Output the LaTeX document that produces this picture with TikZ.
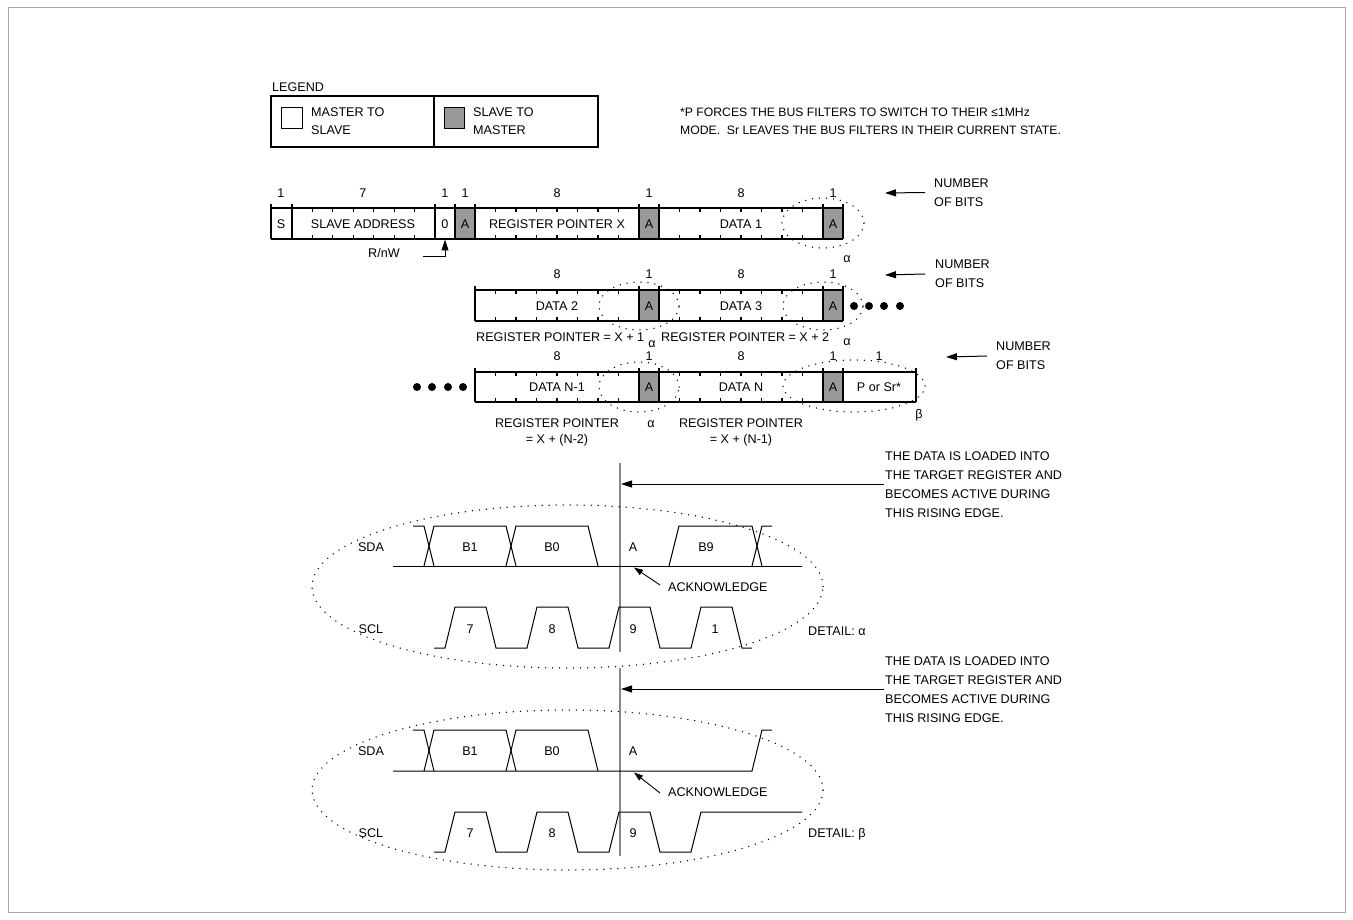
\documentclass[tikz,border=0pt]{standalone}
\usepackage{fontspec}
\setmainfont{Liberation Sans}
\usetikzlibrary{arrows.meta}
\definecolor{ackgray}{RGB}{153,153,153}
\definecolor{vgray}{RGB}{135,135,135}
\definecolor{framegray}{RGB}{170,170,170}
\newcommand\fs{\fontsize{12.6}{18}\selectfont}
\newcommand\fsn{\fontsize{12.2}{18}\selectfont}
\newcommand\fsb{\fontsize{12.6}{19}\selectfont}
\begin{document}
\begin{tikzpicture}[x=1pt,y=-1pt,
  lbl/.style={inner sep=0pt,font=\fs,anchor=base},
  lblw/.style={inner sep=0pt,font=\fs,anchor=base west},
  blockw/.style={inner sep=0pt,font=\fsb,align=left,anchor=west},
  frame/.style={line width=1.1pt},
  tick/.style={line width=1.1pt},
  tri/.style={-{Triangle[length=11pt,width=7pt]}, line width=1pt},
  smalltri/.style={-{Triangle[length=9pt,width=6pt]}, line width=0.9pt},
  ring/.style={line width=1.5pt, dash pattern=on 0pt off 7pt, line cap=round},
  wave/.style={line width=1pt},
  marker/.style={draw=vgray, line width=1.5pt},
  bigdot/.style={circle, fill=black, inner sep=0pt, minimum size=8pt},
]
\useasboundingbox (0,0) rectangle (1353,920);
\draw[framegray, line width=1pt] (8,8) rectangle (1345,912);

% ---------------- legend ----------------
\node[lblw] (legend) at (272,92) {LEGEND};
\draw[frame] (271,96) rectangle (598,147);
\draw[frame] (434,96) -- (434,147);
\draw[line width=0.8pt] (281,107) rectangle (302,128);
\node[lblw] (ms1) at (311,116.5) {MASTER TO};
\node[lblw] (ms2) at (311,134.5) {SLAVE};
\draw[line width=0.8pt, fill=ackgray] (444,107) rectangle (464,128);
\node[lblw] (sm1) at (473,116.5) {SLAVE TO};
\node[lblw] (sm2) at (473,134.5) {MASTER};
\node[lblw,font=\fsn] (fn1) at (680,116.5) {*P FORCES THE BUS FILTERS TO SWITCH TO THEIR ≤1MHz};
\node[lblw,font=\fsn] (fn2) at (680,134.5) {MODE.\ \ Sr LEAVES THE BUS FILTERS IN THEIR CURRENT STATE.};

% ---------------- row 1 ----------------
\fill[ackgray] (455,208) rectangle (475,239) (639,208) rectangle (659,239) (823,208) rectangle (843,239);
\draw[frame] (271,208) -- (843,208) (271,239) -- (843,239);
\foreach \x in {271,292,435,455,475,639,659,823,843} \draw[frame] (\x,204) -- (\x,239);
\foreach \k in {1,...,6} {\draw[tick] (292+\k*20.43,208) -- ++(0,4) (292+\k*20.43,239) -- ++(0,-4);}
\foreach \s in {475,659} {\foreach \k in {1,...,7} {\draw[tick] (\s+\k*20.5,208) -- ++(0,4) (\s+\k*20.5,239) -- ++(0,-4);}}
\foreach \x/\t [count=\i] in {281/1,363/7,445/1,465/1,557/8,649/1,741/8,833/1} \node[lbl] (b1n\i) at (\x,197.5) {\t};
\node[lbl] (c1s) at (281,228.5) {S};
\node[lbl] (c1sa) at (363,228.5) {SLAVE ADDRESS};
\node[lbl] (c1rw) at (445,228.5) {0};
\node[lbl] (c1a1) at (465,228.5) {A};
\node[lbl] (c1rp) at (557,228.5) {REGISTER POINTER X};
\node[lbl] (c1a2) at (649,228.5) {A};
\node[lbl] (c1d) at (741,228.5) {DATA 1};
\node[lbl] (c1a3) at (833,228.5) {A};
\draw[ring] (823,223) ellipse [x radius=41pt, y radius=25pt];
\node[lbl] (al1) at (847,263) {α};
% R/nW
\node[lblw] (rnw) at (368,258) {R/nW};
\coordinate (rnwtip) at (445,239.5);
\draw[line width=1pt] (423,257) -- (445,257);
\draw[tri] (445,257) -- (rnwtip);
% number of bits
\node[blockw] (nb1) at (934,192.5) {NUMBER\\OF BITS};
\coordinate (nb1tip) at (885,193);
\draw[tri] ([xshift=-9pt]nb1.west) -- (nb1tip);

% ---------------- row 2 ----------------
\fill[ackgray] (639,290) rectangle (659,321) (823,290) rectangle (843,321);
\draw[frame] (475,290) -- (843,290) (475,321) -- (843,321);
\foreach \x in {475,639,659,823,843} \draw[frame] (\x,286) -- (\x,321);
\foreach \s in {475,659} {\foreach \k in {1,...,7} {\draw[tick] (\s+\k*20.5,290) -- ++(0,4) (\s+\k*20.5,321) -- ++(0,-4);}}
\foreach \x/\t [count=\i] in {557/8,649/1,741/8,833/1} \node[lbl] (b2n\i) at (\x,278.5) {\t};
\node[lbl] (c2d2) at (557,310.5) {DATA 2};
\node[lbl] (c2a1) at (649,310.5) {A};
\node[lbl] (c2d3) at (741,310.5) {DATA 3};
\node[lbl] (c2a2) at (833,310.5) {A};
\draw[ring] (639,306) ellipse [x radius=40pt, y radius=24pt];
\draw[ring] (823,306) ellipse [x radius=40pt, y radius=24pt];
\foreach \x [count=\i] in {854,869,884,900} \node[bigdot] (d2\i) at (\x,306) {};
\node[lblw] (rp1) at (476,341.5) {REGISTER POINTER = X + 1};
\node[lbl] (al2) at (652,348) {α};
\node[lblw] (rp2) at (661,341.5) {REGISTER POINTER = X + 2};
\node[lbl] (al3) at (847,345.5) {α};
\node[blockw] (nb2) at (935,274) {NUMBER\\OF BITS};
\coordinate (nb2tip) at (885,275);
\draw[tri] ([xshift=-10pt]nb2.west) -- (nb2tip);

% ---------------- row 3 ----------------
\fill[ackgray] (639,372) rectangle (659,402) (823,372) rectangle (843,402);
\draw[frame] (475,372) -- (916,372) (475,402) -- (916,402);
\foreach \x in {475,639,659,823,843,916} \draw[frame] (\x,368) -- (\x,402);
\foreach \s in {475,659} {\foreach \k in {1,...,7} {\draw[tick] (\s+\k*20.5,372) -- ++(0,4) (\s+\k*20.5,402) -- ++(0,-4);}}
\foreach \x/\t [count=\i] in {557/8,649/1,741/8,833/1,879/1} \node[lbl] (b3n\i) at (\x,360.5) {\t};
\node[lbl] (c3d1) at (557,391.5) {DATA N-1};
\node[lbl] (c3a1) at (649,391.5) {A};
\node[lbl] (c3d2) at (741,391.5) {DATA N};
\node[lbl] (c3a2) at (833,391.5) {A};
\node[lbl] (c3p) at (879,391.5) {P or Sr*};
\draw[ring] (639,387) ellipse [x radius=40pt, y radius=25pt];
\draw[ring] (854,386) ellipse [x radius=71pt, y radius=26pt];
\foreach \x [count=\i] in {417,432,448,463} \node[bigdot] (d3\i) at (\x,387) {};
\node[lbl] (rp3a) at (557,427) {REGISTER POINTER};
\node[lbl] (rp3b) at (557,443) {= X + (N-2)};
\node[lbl] (al4) at (651,427) {α};
\node[lbl] (rp4a) at (741,427) {REGISTER POINTER};
\node[lbl] (rp4b) at (741,443) {= X + (N-1)};
\node[lbl] (be1) at (919,418.5) {β};
\node[blockw] (nb3) at (996,356) {NUMBER\\OF BITS};
\coordinate (nb3tip) at (946,357);
\draw[tri] ([xshift=-9pt]nb3.west) -- (nb3tip);

% ---------------- detail alpha ----------------
\draw[marker] (620,463) -- (620,652);
\node[blockw] (ld1) at (885,485) {THE DATA IS LOADED INTO\\THE TARGET REGISTER AND\\BECOMES ACTIVE DURING\\THIS RISING EDGE.};
\coordinate (ld1tip) at (621,484);
\draw[tri] ([xshift=-1pt]ld1.west |- ld1tip) -- (ld1tip);
\node[lbl] (sda1) at (371,551.5) {SDA};
\node[lbl] (scl1) at (371,633.5) {SCL};
\draw[wave] (393,566) -- (802,566);
\draw[wave] (413,526) -- (424,526) -- (434,566);
\draw[wave] (424,566) -- (434,526) -- (506,526) -- (516,566);
\draw[wave] (506,566) -- (516,526) -- (588,526) -- (598,566);
\draw[wave] (669,566) -- (679,526) -- (752,526) -- (762,566);
\draw[wave] (752,566) -- (762,526) -- (772,526);
\node[lbl] (w1b1) at (470,551.5) {B1};
\node[lbl] (w1b0) at (552,551.5) {B0};
\node[lbl] (w1a) at (633,551.5) {A};
\node[lbl] (w1b9) at (706,551.5) {B9};
\draw[wave] (434,648) -- (445,648) -- (455,607) -- (486,607) -- (496,648) -- (527,648) -- (537,607) -- (568,607) -- (578,648) -- (609,648) -- (619,607) -- (650,607) -- (660,648) -- (691,648) -- (701,607) -- (732,607) -- (742,648) -- (752,648);
\node[lbl] (w1c7) at (470,633.5) {7};
\node[lbl] (w1c8) at (552,633.5) {8};
\node[lbl] (w1c9) at (633,633.5) {9};
\node[lbl] (w1c1) at (715,633.5) {1};
\node[lblw] (ack1) at (668,591.5) {ACKNOWLEDGE};
\coordinate (ack1tail) at (660,585);
\coordinate (ack1tip) at (634,567.5);
\draw[smalltri] (ack1tail) -- (ack1tip);
\draw[ring] (567.5,586.5) ellipse [x radius=255.5pt, y radius=81.5pt];
\node[lblw] (det1) at (808,635) {DETAIL: α};

% ---------------- detail beta ----------------
\draw[marker] (620,668) -- (620,856);
\node[blockw] (ld2) at (885,689.5) {THE DATA IS LOADED INTO\\THE TARGET REGISTER AND\\BECOMES ACTIVE DURING\\THIS RISING EDGE.};
\coordinate (ld2tip) at (621,689);
\draw[tri] ([xshift=-1pt]ld2.west |- ld2tip) -- (ld2tip);
\node[lbl] (sda2) at (371,755) {SDA};
\node[lbl] (scl2) at (371,837.5) {SCL};
\draw[wave] (393,771) -- (752,771) -- (762,730) -- (772,730);
\draw[wave] (413,730) -- (424,730) -- (434,771);
\draw[wave] (424,771) -- (434,730) -- (506,730) -- (516,771);
\draw[wave] (506,771) -- (516,730) -- (588,730) -- (598,771);
\node[lbl] (w2b1) at (470,755) {B1};
\node[lbl] (w2b0) at (552,755) {B0};
\node[lbl] (w2a) at (633,755) {A};
\draw[wave] (434,852) -- (445,852) -- (455,812) -- (486,812) -- (496,852) -- (527,852) -- (537,812) -- (568,812) -- (578,852) -- (609,852) -- (619,812) -- (650,812) -- (660,852) -- (691,852) -- (701,812) -- (802,812);
\node[lbl] (w2c7) at (470,837.5) {7};
\node[lbl] (w2c8) at (552,837.5) {8};
\node[lbl] (w2c9) at (633,837.5) {9};
\node[lblw] (ack2) at (668,796.5) {ACKNOWLEDGE};
\coordinate (ack2tail) at (660,793);
\coordinate (ack2tip) at (634,772.5);
\draw[smalltri] (ack2tail) -- (ack2tip);
\draw[ring] (567.5,790) ellipse [x radius=255.5pt, y radius=80pt];
\node[lblw] (det2) at (808,837.5) {DETAIL: β};
\end{tikzpicture}
\end{document}
